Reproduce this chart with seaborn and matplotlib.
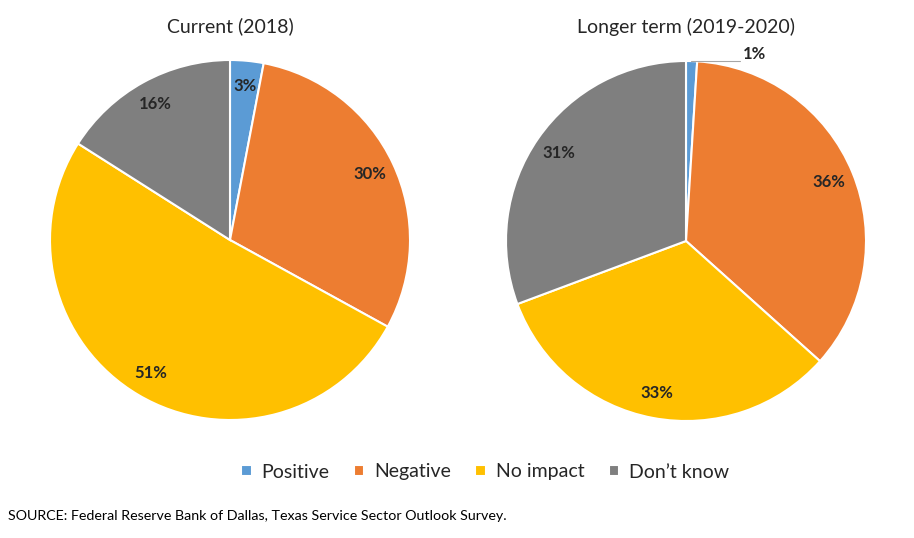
import matplotlib
matplotlib.use("Agg")
import matplotlib.pyplot as plt
import seaborn as sns

# survey shares (percent)
categories = ["Positive", "Negative", "No impact", "Don\u2019t know"]
current_2018 = [3, 30, 51, 16]
longer_term = [1, 36, 33, 31]
titles = ["Current (2018)", "Longer term (2019-2020)"]

sns.set_style("white")
plt.rcParams['font.family'] = ['Lato', 'DejaVu Sans']
colors = sns.color_palette(["#5B9BD5", "#ED7D31", "#FFC000", "#7F7F7F"])

fig = plt.figure(figsize=(9.14, 5.38), dpi=100)
ax1 = fig.add_axes([50 / 914, 118 / 538, 360 / 914, 360 / 538])
ax2 = fig.add_axes([506 / 914, 117 / 538, 360 / 914, 360 / 538])

wedges = None
for ax, vals, title in zip([ax1, ax2], [current_2018, longer_term], titles):
    w, t, at = ax.pie(vals, colors=colors, startangle=90, counterclock=False,
                      autopct='%d', pctdistance=0.86,
                      wedgeprops=dict(edgecolor='white', linewidth=1.5))
    for a, v in zip(at, vals):
        a.set_text(f"{v}%")
        a.set_fontsize(12)
        a.set_fontweight('bold')
        a.set_color('#262626')
    ax.set_xlim(-1, 1)
    ax.set_ylim(-1, 1)
    ax.set_aspect('auto')
    ax.set_title(title, fontsize=14, color='#262626', pad=20)
    if wedges is None:
        wedges = w
    if vals is longer_term:
        # small slice label outside with leader line
        at[0].set_position((0.38, 1.04))
        ax.plot([0.03, 0.30], [1.0, 1.0], color='#A6A6A6', lw=0.8, clip_on=False)

fig.legend(wedges, categories, loc='center', bbox_to_anchor=(485 / 914, 1 - 472 / 538),
           ncol=4, frameon=False, fontsize=14, handlelength=0.55, handleheight=0.55,
           columnspacing=1.25, handletextpad=0.5, labelcolor='#262626')

fig.text(8 / 914, 1 - 516 / 538, "SOURCE: Federal Reserve Bank of Dallas, Texas Service Sector Outlook Survey.",
         fontsize=10.3, va='center', ha='left', color='black')

fig.savefig("out.png", dpi=100)
